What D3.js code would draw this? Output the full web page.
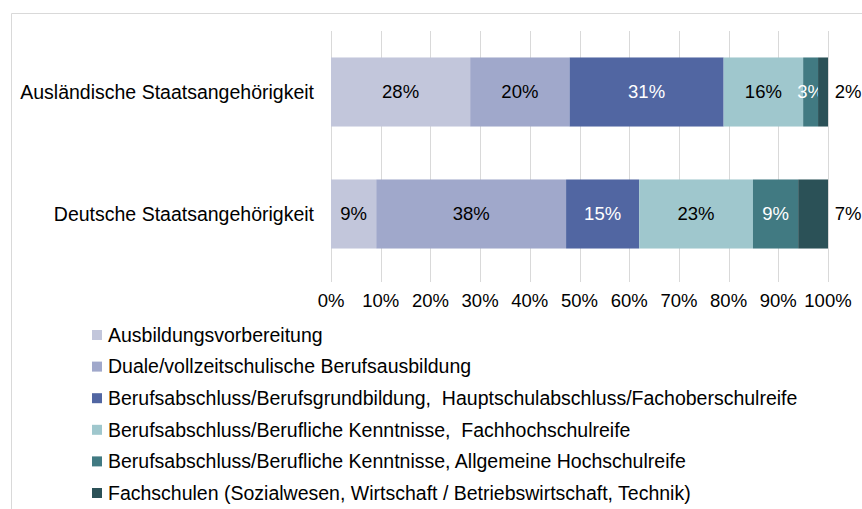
<!DOCTYPE html>
<html>
<head>
  <meta charset="utf-8">
  <script src="https://d3js.org/d3.v7.min.js"></script>
  <style>
    body { margin: 0; background: #fff; }
    text { font-family: "Liberation Sans", Arial, sans-serif; font-size: 18.5px; fill: #000; }
    .legend text, .cat text { font-size: 19.5px; }
    .grid line { stroke: #d9d9d9; stroke-width: 1px; }
  </style>
</head>
<body>
<svg width="862" height="509"></svg>
<script>
  // data (shares in %, labels as printed)
  var categories = ["Ausländische Staatsangehörigkeit", "Deutsche Staatsangehörigkeit"];
  var seriesNames = [
    "Ausbildungsvorbereitung",
    "Duale/vollzeitschulische Berufsausbildung",
    "Berufsabschluss/Berufsgrundbildung,  Hauptschulabschluss/Fachoberschulreife",
    "Berufsabschluss/Berufliche Kenntnisse,  Fachhochschulreife",
    "Berufsabschluss/Berufliche Kenntnisse, Allgemeine Hochschulreife",
    "Fachschulen (Sozialwesen, Wirtschaft / Betriebswirtschaft, Technik)"
  ];
  var auslaender = [28, 20, 31, 16, 3, 2];
  var auslaenderLabels = ["28%", "20%", "31%", "16%", "3%", "2%"];
  var deutsche = [9.1, 38.2, 14.7, 22.9, 9.1, 6.0];
  var deutscheLabels = ["9%", "38%", "15%", "23%", "9%", "7%"];
  var tickValues = [0, 0.1, 0.2, 0.3, 0.4, 0.5, 0.6, 0.7, 0.8, 0.9, 1];

  var colors = ["#c2c6db", "#a0a8cb", "#5166a2", "#9fc7cd", "#417a82", "#2b5157"];
  var labelColors = ["#000", "#000", "#fff", "#000", "#fff", "#000"];

  var rows = [auslaender, deutsche];
  var rowLabels = [auslaenderLabels, deutscheLabels];

  var svg = d3.select("svg");

  // outer frame
  svg.append("path")
    .attr("d", "M11.5,509 V13.5 H862")
    .attr("fill", "none")
    .attr("stroke", "#d9d9d9");

  var x = d3.scaleLinear().domain([0, 1]).range([331, 828]);
  var y = d3.scaleBand().domain(categories).range([31, 275])
    .paddingInner(0.434).paddingOuter(0.217);

  // gridlines
  svg.append("g").attr("class", "grid")
    .selectAll("line").data(tickValues).enter().append("line")
    .attr("x1", function(d) { return Math.round(x(d)) + 0.5; })
    .attr("x2", function(d) { return Math.round(x(d)) + 0.5; })
    .attr("y1", 31).attr("y2", 282);

  // tick labels
  svg.append("g").selectAll("text").data(tickValues).enter().append("text")
    .attr("x", function(d) { return x(d); })
    .attr("y", 307)
    .attr("text-anchor", "middle")
    .text(function(d) { return Math.round(d * 100) + "%"; });

  // category labels
  svg.append("g").attr("class", "cat")
    .selectAll("text").data(categories).enter().append("text")
    .attr("x", 314)
    .attr("y", function(d) { return y(d) + y.bandwidth() / 2; })
    .attr("dy", "0.35em")
    .attr("text-anchor", "end")
    .text(function(d) { return d; });

  // stacked segments
  rows.forEach(function(vals, ri) {
    var total = d3.sum(vals);
    var cum = 0;
    var g = svg.append("g");
    vals.forEach(function(v, si) {
      var x0 = x(cum / total), x1 = x((cum + v) / total);
      cum += v;
      var yy = y(categories[ri]);
      g.append("rect")
        .attr("x", x0).attr("width", x1 - x0)
        .attr("y", yy).attr("height", y.bandwidth())
        .attr("fill", colors[si]);
      var last = si === vals.length - 1;
      g.append("text")
        .attr("x", last ? x(1) + 20 : (x0 + x1) / 2)
        .attr("y", yy + y.bandwidth() / 2)
        .attr("dy", "0.35em")
        .attr("text-anchor", "middle")
        .style("fill", labelColors[si])
        .text(rowLabels[ri][si]);
    });
  });

  // legend
  var legend = svg.append("g").attr("class", "legend")
    .selectAll("g").data(seriesNames).enter().append("g")
    .attr("transform", function(d, i) { return "translate(92," + (335 + i * 31.6) + ")"; });
  legend.append("rect")
    .attr("x", 0).attr("y", -5).attr("width", 10).attr("height", 10)
    .attr("fill", function(d, i) { return colors[i]; });
  legend.append("text")
    .attr("x", 16).attr("dy", "0.35em")
    .attr("xml:space", "preserve")
    .style("white-space", "pre")
    .text(function(d) { return d; });
</script>
</body>
</html>
